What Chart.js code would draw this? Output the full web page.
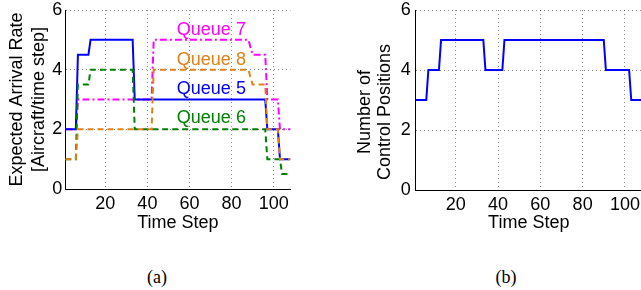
<!DOCTYPE html>
<html><head><meta charset="utf-8">
<script src="https://cdn.jsdelivr.net/npm/chart.js@4/dist/chart.umd.min.js"></script>
<style>
html,body{margin:0;padding:0;background:#fff;overflow:hidden;width:641px;height:290px;}
#ca{position:absolute;left:0;top:0;}
#cb{position:absolute;left:330px;top:0;}
.cap{position:absolute;font-family:'Liberation Serif','Times New Roman',serif;font-size:18px;line-height:20px;transform:translate(-50%,-50%);white-space:nowrap;color:#000;}
</style></head><body>
<canvas id="ca" width="310" height="250"></canvas>
<canvas id="cb" width="320" height="250"></canvas>
<div class="cap" style="left:157px;top:277px">(a)</div>
<div class="cap" style="left:506px;top:277px">(b)</div>
<script>
// ---------- data ----------
const timeMin = 1, timeMax = 108;
const xTickValues = [20, 40, 60, 80, 100];
const yTickValues = [0, 2, 4, 6];
const seriesNames = ['Queue 5', 'Queue 6', 'Queue 7', 'Queue 8'];

const q5Steps = [1, 6, 7, 12, 13, 33, 34, 96, 97, 102, 103, 108];
const q5Rates = [2, 2, 4.5, 4.5, 5, 5, 3, 3, 2, 2, 1, 1];

const q6Steps = [1, 6, 7, 12, 13, 33, 34, 96, 97, 103, 104, 108];
const q6Rates = [1, 1, 3.5, 3.5, 4, 4, 2, 2, 1, 1, 0.5, 0.5];

const q7Steps = [1, 6, 7, 42, 43, 88, 90, 96, 97, 102, 103, 108];
const q7Rates = [2, 2, 3, 3, 5, 5, 4.5, 4.5, 3, 3, 2, 2];

const q8Steps = [1, 6, 7, 42, 43, 88, 90, 96, 97, 102, 103, 108];
const q8Rates = [1, 1, 2, 2, 4, 4, 3.5, 3.5, 2, 2, 1, 1];

const ctrlSteps  = [1, 6, 7, 12, 13, 33, 34, 42, 43, 90, 91, 102, 103, 108];
const ctrlCounts = [3, 3, 4, 4, 5, 5, 4, 4, 5, 5, 4, 4, 3, 3];

const titleA = ['Expected Arrival Rate', '[Aircraft/time step]'];
const titleB = ['Number of', 'Control Positions'];
const xTitle = 'Time Step';

// ---------- styles ----------
const FAMILY = '"Liberation Sans", Arial, Helvetica, sans-serif';
const font = {family: FAMILY, size: 18};
const gridColor = 'rgba(0,0,0,0.45)';
const colors = {q5: '#0000ff', q6: '#008000', q7: '#ff00ff', q8: '#e0801a'};
const labelSpots = [ // [x, y] in data units, style only
  {x: 70.4, y: 3.35}, {x: 70.4, y: 2.38}, {x: 70.4, y: 5.33}, {x: 70.4, y: 4.32}
];

const pts = (xs, ys) => xs.map((x, i) => ({x, y: ys[i]}));

const queueLabelPlugin = {
  id: 'queueLabels',
  afterDatasetsDraw(chart, args, opts) {
    if (!opts || !opts.items) return;
    const {ctx, scales: {x, y}} = chart;
    ctx.save();
    ctx.font = '18px ' + FAMILY;
    ctx.textAlign = 'center';
    ctx.textBaseline = 'middle';
    opts.items.forEach(it => {
      ctx.fillStyle = it.color;
      ctx.fillText(it.text, x.getPixelForValue(it.x), y.getPixelForValue(it.y));
    });
    ctx.restore();
  }
};

const sideTitlePlugin = {
  id: 'sideTitle',
  afterDraw(chart, args, opts) {
    if (!opts || !opts.lines) return;
    const ctx = chart.ctx;
    ctx.save();
    ctx.font = '18px ' + FAMILY;
    ctx.fillStyle = '#000';
    ctx.textAlign = 'center';
    ctx.textBaseline = 'middle';
    ctx.translate(opts.x, opts.y);
    ctx.rotate(-Math.PI / 2);
    opts.lines.forEach((l, i) => ctx.fillText(l, 0, i * opts.lh));
    ctx.restore();
  }
};

function makeChart(id, datasets, cfg) {
  return new Chart(document.getElementById(id), {
    type: 'line',
    data: {datasets},
    options: {
      responsive: false, animation: false, events: [],
      layout: {padding: {left: 0, top: cfg.top, right: cfg.right, bottom: 0}},
      plugins: Object.assign({legend: {display: false}, tooltip: {enabled: false}}, cfg.plugins),
      elements: {point: {radius: 0}, line: {tension: 0, borderWidth: 2}},
      scales: {
        x: {
          type: 'linear', min: timeMin, max: timeMax,
          afterBuildTicks: s => { s.ticks = xTickValues.map(v => ({value: v})); },
          afterFit: s => { s.height = cfg.xH; s.paddingLeft = 0; s.paddingRight = 0; },
          ticks: {font, color: '#000', padding: 4, maxRotation: 0, autoSkip: false},
          grid: {color: gridColor, lineWidth: 1, drawTicks: false},
          border: {display: true, color: '#000', width: 1, dash: [1, 3]},
          title: {display: true, text: xTitle, font, color: '#000', padding: {top: 0, bottom: 16}}
        },
        y: {
          type: 'linear', min: 0, max: 6,
          afterBuildTicks: s => { s.ticks = yTickValues.map(v => ({value: v})); },
          afterFit: s => { s.width = cfg.yW; s.paddingTop = 0; s.paddingBottom = 0; },
          ticks: {font, color: '#000', padding: cfg.yPad},
          grid: {color: c => (c.tick && c.tick.value === 0) ? 'rgba(0,0,0,0)' : gridColor, lineWidth: 1, drawTicks: false},
          border: {display: true, color: '#000', width: 1, dash: [1, 3]},
          title: cfg.yTitle
        }
      }
    },
    plugins: [queueLabelPlugin, sideTitlePlugin]
  });
}

makeChart('ca', [
  {label: seriesNames[3], data: pts(q8Steps, q8Rates), borderColor: colors.q8, borderDash: [6, 4]},
  {label: seriesNames[1], data: pts(q6Steps, q6Rates), borderColor: colors.q6, borderDash: [6, 4]},
  {label: seriesNames[0], data: pts(q5Steps, q5Rates), borderColor: colors.q5},
  {label: seriesNames[2], data: pts(q7Steps, q7Rates), borderColor: colors.q7, borderDash: [7, 3, 2, 3]}
], {
  top: 10, right: 19.5, xH: 61, yW: 65.3, yPad: 3,
  yTitle: {display: true, text: titleA, font, color: '#000', padding: {top: 6.7, bottom: 0}},
  plugins: {queueLabels: {items: [
    {text: seriesNames[2], color: colors.q7, x: labelSpots[2].x, y: labelSpots[2].y},
    {text: seriesNames[3], color: colors.q8, x: labelSpots[3].x, y: labelSpots[3].y},
    {text: seriesNames[0], color: colors.q5, x: labelSpots[0].x, y: labelSpots[0].y},
    {text: seriesNames[1], color: colors.q6, x: labelSpots[1].x, y: labelSpots[1].y}
  ]}}
});

makeChart('cb', [
  {label: 'Control Positions', data: pts(ctrlSteps, ctrlCounts), borderColor: colors.q5}
], {
  top: 10, right: 8.2, xH: 60, yW: 85.7, yPad: 5,
  yTitle: {display: false},
  plugins: {sideTitle: {lines: titleB, x: 35, y: 112, lh: 20}}
});
</script>
</body></html>
